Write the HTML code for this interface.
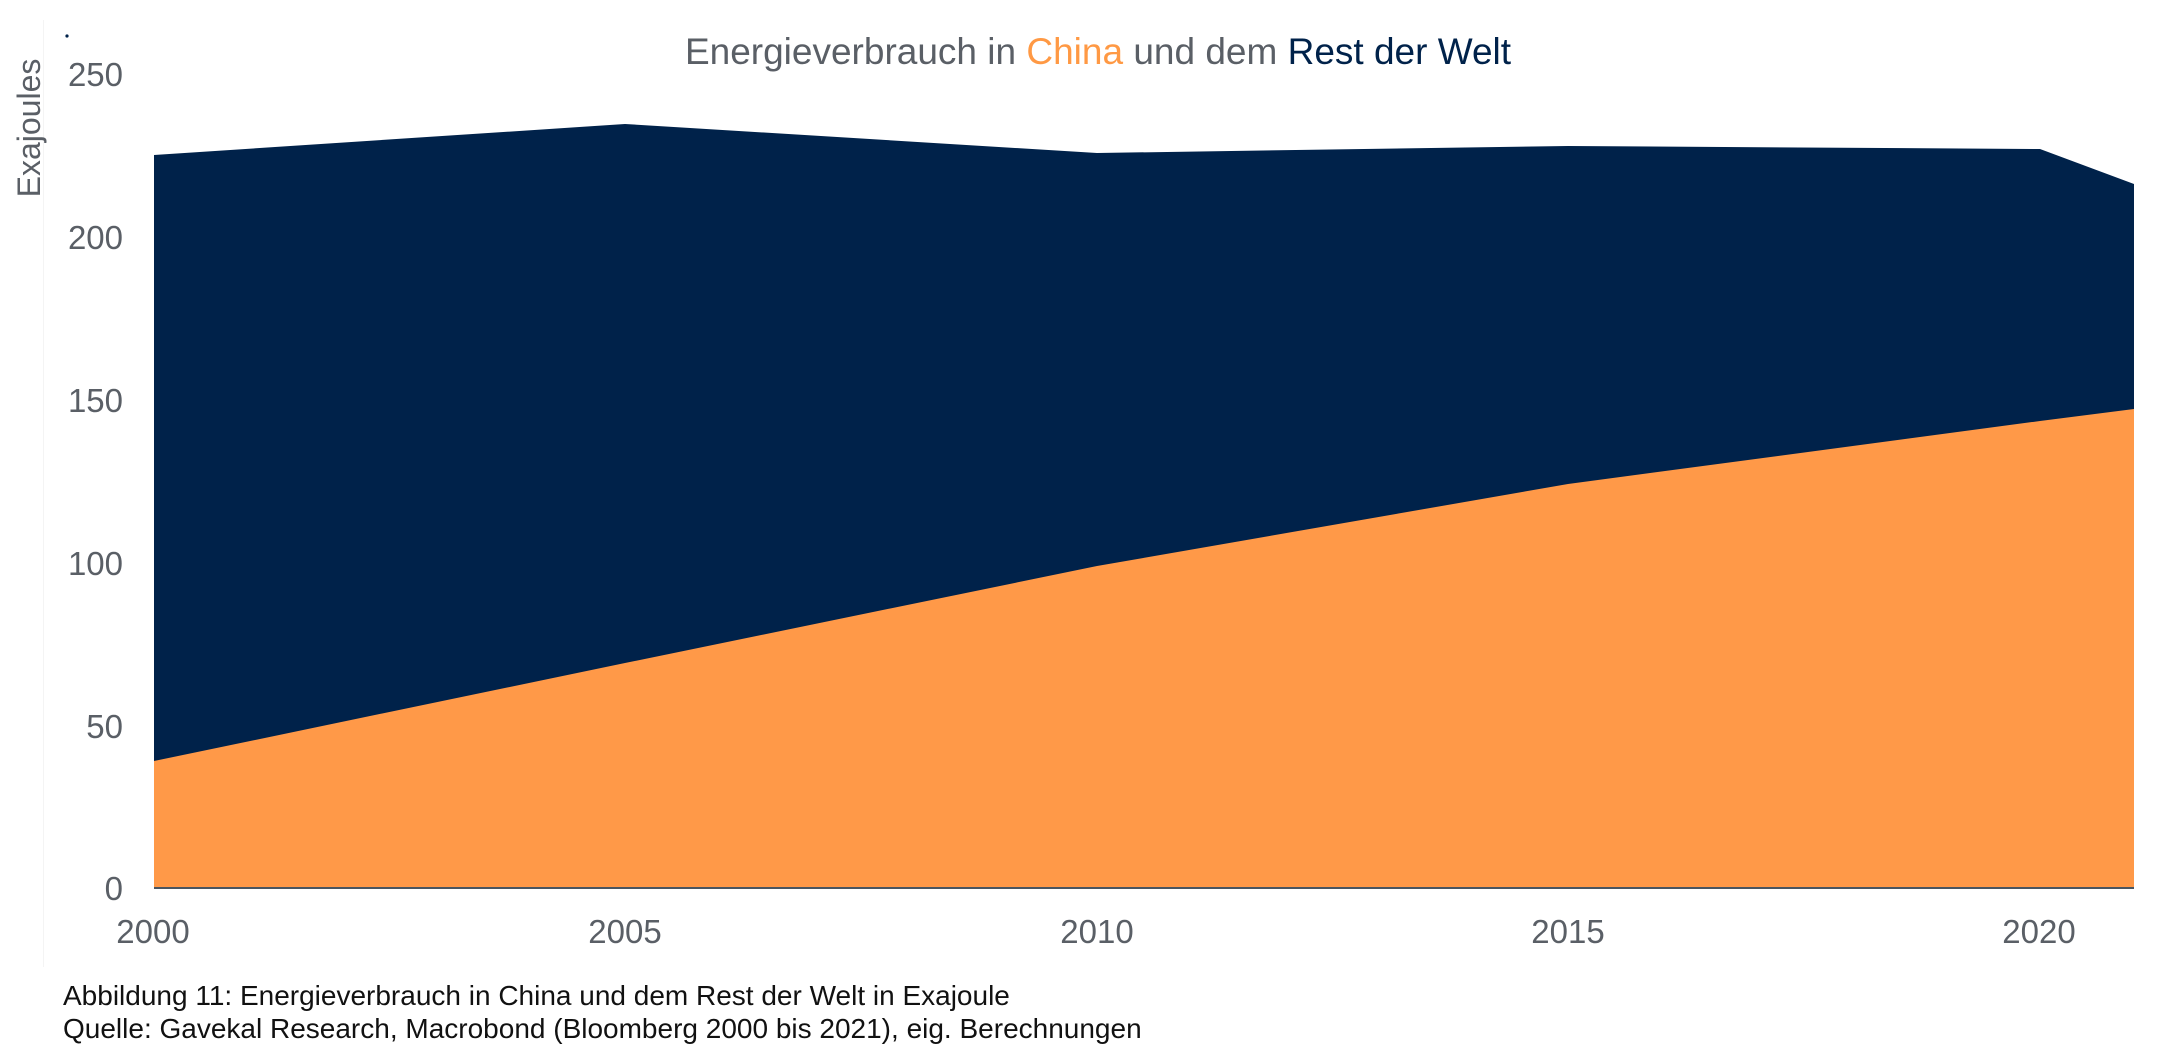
<!DOCTYPE html>
<html><head><meta charset="utf-8"><style>
body{margin:0;width:2168px;height:1059px;background:#fff;overflow:hidden;font-family:"Liberation Sans",sans-serif}
</style></head><body>
<svg width="2168" height="1059" xmlns="http://www.w3.org/2000/svg" style="position:absolute;left:0;top:0">
<line x1="43.5" y1="20" x2="43.5" y2="967" stroke="#f4f4f4" stroke-width="1"/>
<circle cx="67" cy="36" r="1.6" fill="#00224a"/>
<text x="1098" y="64" text-anchor="middle" font-size="37" fill="#5a5f66">Energieverbrauch in <tspan fill="#ff9944">China</tspan> und dem <tspan fill="#00224a">Rest der Welt</tspan></text>
<text transform="translate(40,128) rotate(-90)" text-anchor="middle" font-size="32" fill="#5a5f66">Exajoules</text>
<g font-size="33" fill="#5a5f66" text-anchor="end">
<text x="123" y="86">250</text>
<text x="123" y="249">200</text>
<text x="123" y="412">150</text>
<text x="123" y="575">100</text>
<text x="123" y="738">50</text>
<text x="123" y="900">0</text>
</g>
<polygon fill="#00224a" points="154,155 625,124 1097,153 1568,146 2040,149 2134,184 2134,888 154,888"/>
<polygon fill="#ff9948" points="154,761 625,663 1097,566 1568,484 2040,421 2134,409 2134,888 154,888"/>
<line x1="154" y1="888" x2="2134" y2="888" stroke="#4a5560" stroke-width="2"/>
<g font-size="33" fill="#5a5f66" text-anchor="middle">
<text x="153" y="943">2000</text>
<text x="625" y="943">2005</text>
<text x="1097" y="943">2010</text>
<text x="1568" y="943">2015</text>
<text x="2039" y="943">2020</text>
</g>
<g font-size="28" fill="#111">
<text x="63" y="1005">Abbildung 11: Energieverbrauch in China und dem Rest der Welt in Exajoule</text>
<text x="63" y="1038">Quelle: Gavekal Research, Macrobond (Bloomberg 2000 bis 2021), eig. Berechnungen</text>
</g>
</svg>
</body></html>
